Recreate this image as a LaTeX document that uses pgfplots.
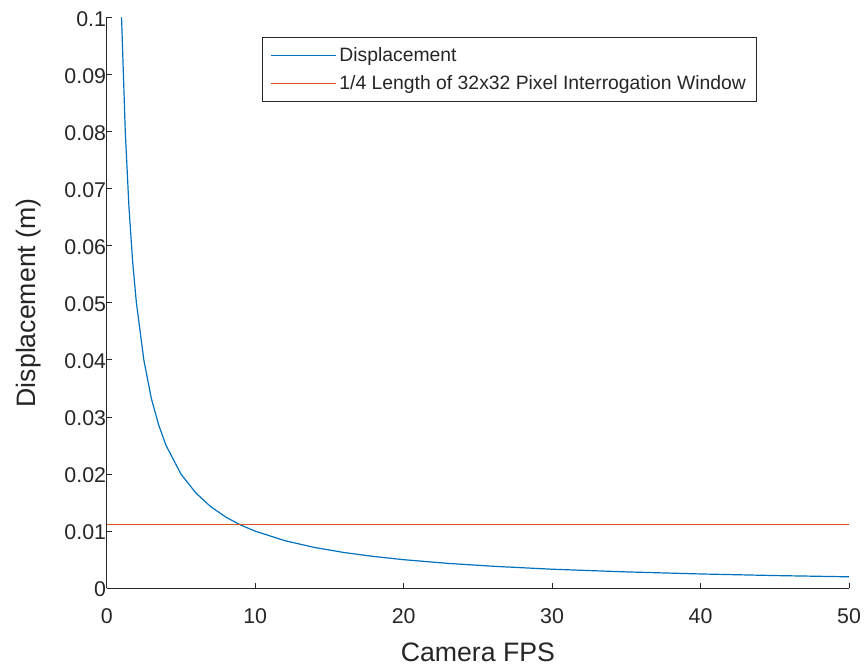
\documentclass[border=0pt]{standalone}
\usepackage{fontspec}
\setmainfont{Liberation Sans}
\usepackage{pgfplots}
\pgfplotsset{compat=1.18}
\definecolor{mblue}{rgb}{0,0.447,0.741}
\definecolor{morange}{rgb}{0.85,0.325,0.098}
\definecolor{axgray}{rgb}{0.15,0.15,0.15}
\begin{document}
\begin{tikzpicture}
\begin{axis}[
  scale only axis,
  width=556.5pt, height=428pt,
  xmin=0, xmax=50, ymin=0, ymax=0.1,
  axis lines*=left,
  axis line style={axgray, line width=0.6pt},
  xtick={0,10,20,30,40,50},
  ytick={0,0.01,0.02,0.03,0.04,0.05,0.06,0.07,0.08,0.09,0.1},
  yticklabels={0,0.01,0.02,0.03,0.04,0.05,0.06,0.07,0.08,0.09,0.1},
  scaled y ticks=false,
  tick align=inside,
  major tick length=4pt,
  tick style={axgray, line width=0.6pt},
  /pgf/number format/assume math mode=true,
  tick label style={font=\fontsize{16}{19}\selectfont, text=axgray},
  xticklabel style={yshift=-12pt},
  yticklabel style={xshift=3pt, yshift=-1pt},
  xlabel={Camera FPS},
  ylabel={Displacement (m)},
  label style={font=\fontsize{20}{24}\selectfont, text=axgray},
  xlabel style={yshift=-7pt},
  ylabel style={yshift=11pt},
  legend style={at={(0.876,0.965)}, anchor=north east, draw=axgray, line width=0.6pt,
    font=\fontsize{14.5}{17}\selectfont, text=axgray, inner xsep=6pt, inner ysep=5.5pt, row sep=5pt},
  legend cell align=left,
  legend image code/.code={\draw[#1] (0pt,0pt) -- (49pt,0pt);},
]
\addplot[mblue, line width=0.9pt] coordinates {
(1,0.1) (1.25,0.08) (1.5,0.0667) (1.75,0.0571) (2,0.05) (2.5,0.04) (3,0.0333) (3.5,0.0286)
(4,0.025) (5,0.02) (6,0.0167) (7,0.0143) (8,0.0125) (9,0.0111) (10,0.01) (12,0.00833)
(14,0.00714) (16,0.00625) (18,0.00556) (20,0.005) (23,0.00435) (26,0.00385) (30,0.00333)
(35,0.00286) (40,0.0025) (45,0.00222) (50,0.002)
};
\addlegendentry{Displacement}
\addplot[morange, line width=0.9pt] coordinates {(0,0.0112) (50,0.0112)};
\addlegendentry{1/4 Length of 32x32 Pixel Interrogation Window}
\end{axis}
\pgfresetboundingbox
\path (current axis.south west) ++(-80pt,-61pt) coordinate (bl);
\path (current axis.north east) ++(12pt,13pt) coordinate (tr);
\useasboundingbox (bl) rectangle (tr);
\end{tikzpicture}
\end{document}
